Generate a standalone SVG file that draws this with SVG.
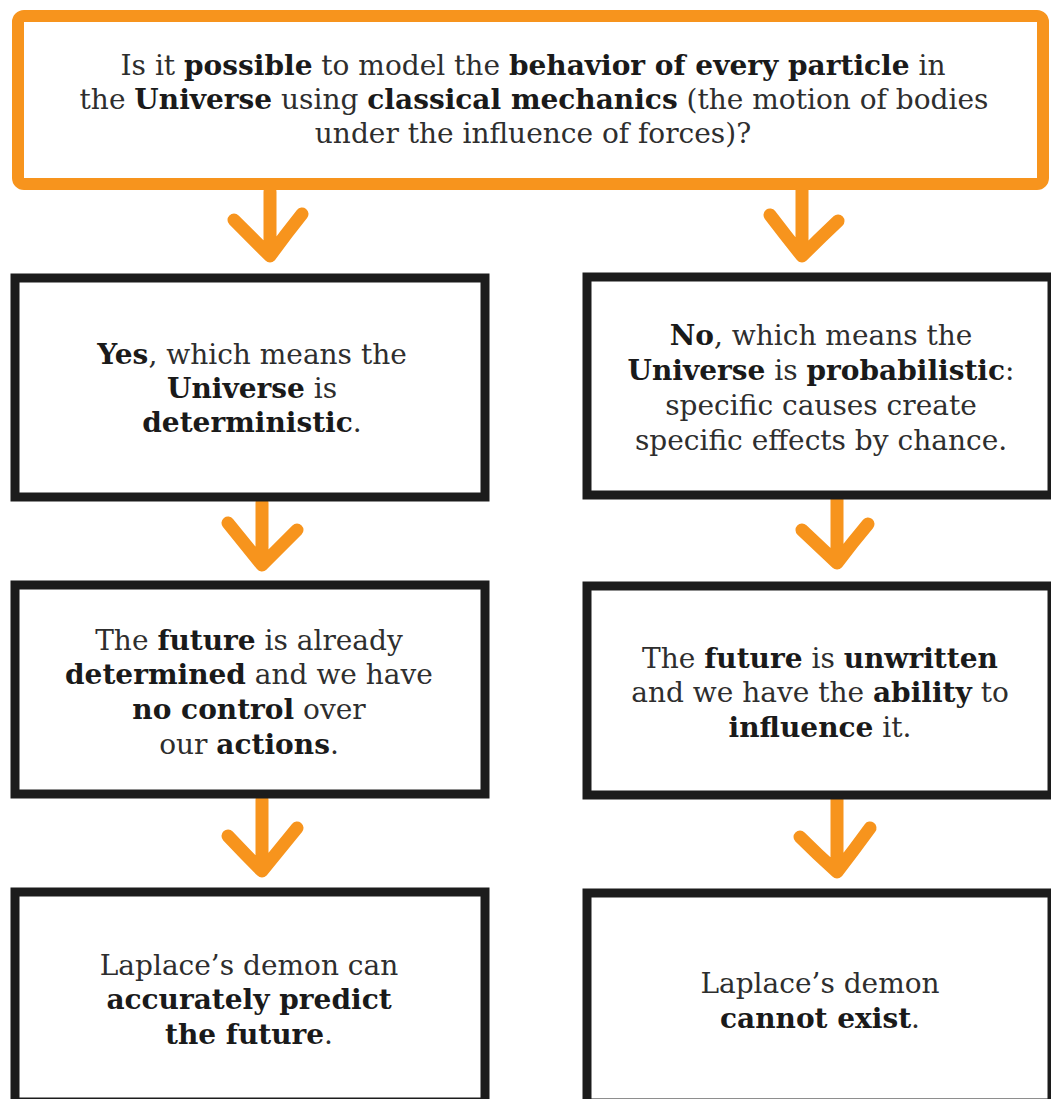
<svg xmlns="http://www.w3.org/2000/svg" width="1051" height="1099" viewBox="0 0 1051 1099">
<style>
.bg{fill:#ffffff}
.qbox{fill:#ffffff;stroke:#f7941d;stroke-width:12;stroke-linejoin:round}
.box{fill:#ffffff;stroke:#1c1c1c;stroke-width:9;stroke-linejoin:miter}
.arr{fill:none;stroke:#f7941d;stroke-width:13;stroke-linecap:round;stroke-linejoin:round}
text{font-family:"DejaVu Serif","Liberation Serif",serif;font-size:28px;fill:#2e2e2e;text-anchor:middle}
.b{font-weight:bold;fill:#1a1a1a}
</style>
<rect class="bg" x="0" y="0" width="1051" height="1099"/>
<g id="connectors">
  <path class="arr" d="M270 192 L270 256 M234 220 Q252 238 270 256 Q286 234 302 214"/>
  <path class="arr" d="M802 190 L802 256 M770 215 Q786 236 802 256 Q820 238 838 221"/>
  <path class="arr" d="M262 503 L262 565 M228 523 Q245 544 262 565 Q280 547 297 530"/>
  <path class="arr" d="M837 500 L837 563 M802 530 Q820 547 837 563 Q852 543 868 524"/>
  <path class="arr" d="M262 800 L262 871 M228 836 Q245 854 262 871 Q280 849 297 828"/>
  <path class="arr" d="M837 800 L837 872 M800 837 Q818 855 837 872 Q854 850 870 828"/>
</g>
<g id="question">
  <rect class="qbox" x="18" y="16" width="1025" height="168" rx="6"/>
  <text x="533" y="75">Is it <tspan class="b">possible</tspan> to model the <tspan class="b">behavior of every particle</tspan> in</text>
  <text x="534" y="109">the <tspan class="b">Universe</tspan> using <tspan class="b">classical mechanics</tspan> (the motion of bodies</text>
  <text x="533" y="143">under the influence of forces)?</text>
</g>
<g id="yes">
  <rect class="box" x="15" y="278" width="470" height="219"/>
  <text x="252" y="364"><tspan class="b">Yes</tspan>, which means the</text>
  <text x="252" y="398"><tspan class="b">Universe</tspan> is</text>
  <text x="252" y="432"><tspan class="b">deterministic</tspan>.</text>
</g>
<g id="no">
  <rect class="box" x="587" y="277" width="465" height="218"/>
  <text x="821" y="345"><tspan class="b">No</tspan>, which means the</text>
  <text x="821" y="380"><tspan class="b">Universe</tspan> is <tspan class="b">probabilistic</tspan>:</text>
  <text x="821" y="415">specific causes create</text>
  <text x="821" y="450">specific effects by chance.</text>
</g>
<g id="determined">
  <rect class="box" x="15" y="585" width="470" height="209"/>
  <text x="249" y="650">The <tspan class="b">future</tspan> is already</text>
  <text x="249" y="684"><tspan class="b">determined</tspan> and we have</text>
  <text x="249" y="719"><tspan class="b">no control</tspan> over</text>
  <text x="249" y="754">our <tspan class="b">actions</tspan>.</text>
</g>
<g id="unwritten">
  <rect class="box" x="587" y="586" width="465" height="209"/>
  <text x="820" y="668">The <tspan class="b">future</tspan> is <tspan class="b">unwritten</tspan></text>
  <text x="820" y="702">and we have the <tspan class="b">ability</tspan> to</text>
  <text x="820" y="737"><tspan class="b">influence</tspan> it.</text>
</g>
<g id="predict">
  <rect class="box" x="15" y="892" width="470" height="210"/>
  <text x="249" y="975">Laplace’s demon can</text>
  <text x="249" y="1009"><tspan class="b">accurately predict</tspan></text>
  <text x="249" y="1044"><tspan class="b">the future</tspan>.</text>
</g>
<g id="cannot">
  <rect class="box" x="587" y="893" width="465" height="210"/>
  <text x="820" y="993">Laplace’s demon</text>
  <text x="820" y="1028"><tspan class="b">cannot exist</tspan>.</text>
</g>
</svg>
